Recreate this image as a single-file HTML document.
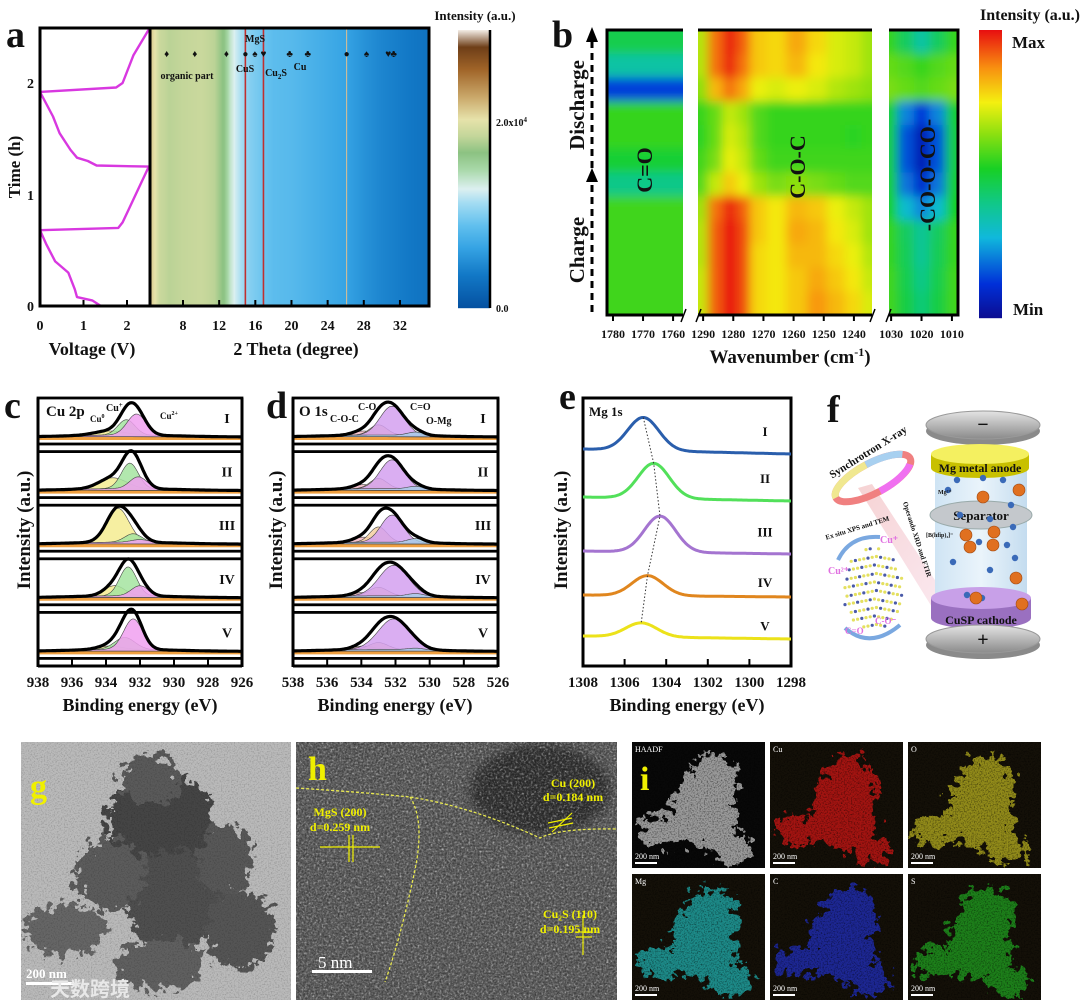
<!DOCTYPE html>
<html><head><meta charset="utf-8">
<style>
html,body{margin:0;padding:0;background:#fff;}
svg{display:block;}
text{font-family:"Liberation Serif","Noto Serif CJK SC",serif;font-weight:bold;fill:#111;}
</style></head>
<body>
<svg id="fig" xmlns="http://www.w3.org/2000/svg" width="1080" height="1004" viewBox="0 0 1080 1004">
<defs>
  <filter id="blurB" x="-20%" y="-20%" width="140%" height="140%"><feGaussianBlur stdDeviation="5"/></filter>
  <filter id="rough" x="-20%" y="-20%" width="140%" height="140%">
    <feTurbulence type="fractalNoise" baseFrequency="0.12" numOctaves="3" seed="3" result="t"/>
    <feDisplacementMap in="SourceGraphic" in2="t" scale="30" xChannelSelector="R" yChannelSelector="G"/>
  </filter>
  <filter id="noiseGray" x="0" y="0" width="100%" height="100%">
    <feTurbulence type="fractalNoise" baseFrequency="0.55" numOctaves="2" seed="7"/>
    <feColorMatrix type="matrix" values="0 0 0 0 0  0 0 0 0 0  0 0 0 0 0  0 0 0 -1.6 1.25"/>
  </filter>
  <filter id="noiseLight" x="0" y="0" width="100%" height="100%">
    <feTurbulence type="fractalNoise" baseFrequency="0.45" numOctaves="2" seed="11"/>
    <feColorMatrix type="matrix" values="0 0 0 0 1  0 0 0 0 1  0 0 0 0 1  0 0 0 1.8 -0.85"/>
  </filter>
  <filter id="speck" x="0" y="0" width="100%" height="100%">
    <feTurbulence type="fractalNoise" baseFrequency="0.7" numOctaves="2" seed="5"/>
    <feColorMatrix type="matrix" values="0 0 0 0 0  0 0 0 0 0  0 0 0 0 0  0 0 0 -2.2 1.2"/>
  </filter>
  <linearGradient id="capG" x1="0" y1="0" x2="0" y2="1"><stop offset="0" stop-color="#e4e4e4"/><stop offset="1" stop-color="#8a8a8a"/></linearGradient>
  <linearGradient id="colG" x1="0" y1="0" x2="1" y2="0"><stop offset="0" stop-color="#cfe4f4"/><stop offset="0.5" stop-color="#eaf4fb"/><stop offset="1" stop-color="#c4dcef"/></linearGradient>
  <linearGradient id="beamG" x1="0" y1="0" x2="1" y2="1"><stop offset="0" stop-color="#f4c8c8" stop-opacity="0.8"/><stop offset="1" stop-color="#f4c8d8" stop-opacity="0.4"/></linearGradient>
  <clipPath id="clipA"><rect x="150" y="28" width="279" height="278"/></clipPath>
  <clipPath id="clipB1"><rect x="607" y="30" width="76" height="285"/></clipPath>
  <clipPath id="clipB2"><rect x="698" y="30" width="174" height="285"/></clipPath>
  <clipPath id="clipB3"><rect x="889" y="30" width="69" height="285"/></clipPath>
  <clipPath id="clipG"><rect x="21" y="742" width="270" height="258"/></clipPath>
  <clipPath id="clipH"><rect x="296" y="742" width="321" height="258"/></clipPath>
</defs>

<g id="panelA">
  <text x="6" y="47" font-size="38">a</text>
  <g id="heatA" clip-path="url(#clipA)"></g>
  <g id="voltA"></g>
  <rect x="40" y="28" width="389" height="278" fill="none" stroke="#000" stroke-width="3"/>
  <line x1="150" y1="28" x2="150" y2="306" stroke="#000" stroke-width="3"/>
  <g id="axA"></g>
  <text x="34" y="311" font-size="14" text-anchor="end">0</text>
  <text x="34" y="200" font-size="14" text-anchor="end">1</text>
  <text x="34" y="88" font-size="14" text-anchor="end">2</text>
  <text transform="translate(20,167) rotate(-90)" font-size="17" text-anchor="middle">Time (h)</text>
  <text x="92" y="355" font-size="18" text-anchor="middle">Voltage (V)</text>
  <text x="296" y="355" font-size="18" text-anchor="middle">2 Theta (degree)</text>
  <text x="187" y="79" font-size="10" text-anchor="middle">organic part</text>
  <text x="255" y="42" font-size="10" text-anchor="middle">MgS</text>
  <text x="245" y="72" font-size="10" text-anchor="middle">CuS</text>
  <text x="276" y="76" font-size="10" text-anchor="middle">Cu<tspan font-size="7" dy="3">2</tspan><tspan dy="-3">S</tspan></text>
  <text x="300" y="70" font-size="10" text-anchor="middle">Cu</text>
  <g id="cbarA"></g>
  <text x="475" y="20" font-size="13" text-anchor="middle">Intensity (a.u.)</text>
  <text x="496" y="126" font-size="10">2.0x10<tspan font-size="7" dy="-4">4</tspan></text>
  <text x="496" y="312" font-size="10">0.0</text>
</g>

<g id="panelB">
  <text x="552" y="47" font-size="38">b</text>
  <g id="heatB1" clip-path="url(#clipB1)"></g>
  <g id="heatB2" clip-path="url(#clipB2)"></g>
  <g id="heatB3" clip-path="url(#clipB3)"></g>
  <polyline points="683,30 607,30 607,315 683,315" fill="none" stroke="#000" stroke-width="3"/>
  <line x1="698" y1="30" x2="872" y2="30" stroke="#000" stroke-width="3"/>
  <line x1="698" y1="315" x2="872" y2="315" stroke="#000" stroke-width="3"/>
  <polyline points="889,30 958,30 958,315 889,315" fill="none" stroke="#000" stroke-width="3"/>
  <g stroke="#000" stroke-width="1.5">
    <line x1="681" y1="322" x2="686" y2="309"/><line x1="696" y1="322" x2="701" y2="309"/>
    <line x1="870" y1="322" x2="875" y2="309"/><line x1="886" y1="322" x2="891" y2="309"/>
  </g>
  <g id="axB"></g>
  <line x1="592" y1="312" x2="592" y2="40" stroke="#000" stroke-width="3" stroke-dasharray="7,5"/>
  <polygon points="592,27 586,42 598,42" fill="#000"/>
  <polygon points="592,168 586,182 598,182" fill="#000"/>
  <text transform="translate(584,105) rotate(-90)" font-size="21" text-anchor="middle">Discharge</text>
  <text transform="translate(584,250) rotate(-90)" font-size="21" text-anchor="middle">Charge</text>
  <text transform="translate(652,170) rotate(-90)" font-size="22" text-anchor="middle">C=O</text>
  <text transform="translate(805,167) rotate(-90)" font-size="22" text-anchor="middle">C-O-C</text>
  <text transform="translate(935,175) rotate(-90)" font-size="22" text-anchor="middle">-CO-O-CO-</text>
  <g id="cbarB"></g>
  <text x="1030" y="20" font-size="16" text-anchor="middle">Intensity (a.u.)</text>
  <text x="1012" y="48" font-size="17">Max</text>
  <text x="1013" y="315" font-size="17">Min</text>
  <text x="790" y="363" font-size="19" text-anchor="middle">Wavenumber (cm<tspan font-size="12" dy="-7">-1</tspan><tspan dy="7">)</tspan></text>
</g>

<g id="panelC">
  <text x="4" y="418" font-size="38">c</text>
  <text transform="translate(30,530) rotate(-90)" font-size="19" text-anchor="middle">Intensity (a.u.)</text>
  <text x="140" y="711" font-size="18" text-anchor="middle">Binding energy (eV)</text>
  <g id="plotC"></g>
  <text x="46" y="416" font-size="15">Cu 2p</text>
  <text x="90" y="422" font-size="9">Cu<tspan font-size="6" dy="-4">0</tspan></text>
  <text x="106" y="411" font-size="10">Cu<tspan font-size="7" dy="-4">+</tspan></text>
  <text x="160" y="419" font-size="9">Cu<tspan font-size="6" dy="-4">2+</tspan></text>
</g>
<g id="panelD">
  <text x="266" y="418" font-size="38">d</text>
  <text transform="translate(282,530) rotate(-90)" font-size="19" text-anchor="middle">Intensity (a.u.)</text>
  <text x="395" y="711" font-size="18" text-anchor="middle">Binding energy (eV)</text>
  <g id="plotD"></g>
  <text x="299" y="416" font-size="15">O 1s</text>
  <text x="330" y="422" font-size="10">C-O-C</text>
  <text x="358" y="410" font-size="10">C-O</text>
  <text x="410" y="410" font-size="10">C=O</text>
  <text x="426" y="424" font-size="10">O-Mg</text>
</g>
<g id="panelE">
  <text x="559" y="409" font-size="38">e</text>
  <text transform="translate(567,530) rotate(-90)" font-size="19" text-anchor="middle">Intensity (a.u.)</text>
  <text x="687" y="711" font-size="18" text-anchor="middle">Binding energy (eV)</text>
  <g id="plotE"></g>
  <text x="589" y="416" font-size="13">Mg 1s</text>
</g>

<g id="panelF">
  <text x="827" y="422" font-size="38">f</text>
  <polygon points="858,488 872,484 948,600 935,612" fill="url(#beamG)"/>
  <rect x="935" y="462" width="92" height="145" fill="url(#colG)"/>
  <ellipse cx="983" cy="431" rx="57" ry="14" fill="#8a8a8a"/>
  <ellipse cx="983" cy="425" rx="57" ry="14" fill="url(#capG)" stroke="#999"/>
  <text x="983" y="431" font-size="20" text-anchor="middle">−</text>
  <path d="M931,454 L931,468 A49,10 0 0 0 1029,468 L1029,454 Z" fill="#c8c000"/>
  <ellipse cx="980" cy="454" rx="49" ry="10" fill="#f4f060"/>
  <text x="980" y="472" font-size="12" text-anchor="middle">Mg metal anode</text>
  <ellipse cx="981" cy="515" rx="51" ry="14" fill="#c4c8cc" stroke="#9aa"/>
  <text x="981" y="520" font-size="13" text-anchor="middle">Separator</text>
  <path d="M931,598 L931,618 A50,11 0 0 0 1031,618 L1031,598 Z" fill="#9a70c0"/>
  <ellipse cx="981" cy="598" rx="50" ry="11" fill="#c8a0e8"/>
  <text x="981" y="624" font-size="12" text-anchor="middle">CuSP cathode</text>
  <ellipse cx="983" cy="645" rx="57" ry="14" fill="#8a8a8a"/>
  <ellipse cx="983" cy="639" rx="57" ry="14" fill="url(#capG)" stroke="#999"/>
  <text x="983" y="646" font-size="20" text-anchor="middle">+</text>
  <g id="ballsF"></g>
  <text x="938" y="494" font-size="6">Mg²⁺</text>
  <text x="926" y="537" font-size="6">[B(hfip)₄]⁻</text>
  <g transform="rotate(-28 873 478)">
    <ellipse cx="873" cy="478" rx="42" ry="15" fill="none" stroke="#f08080" stroke-width="7"/>
    <path d="M831,478 A42,15 0 0 1 873,463" fill="none" stroke="#f0e890" stroke-width="7"/>
    <path d="M873,463 A42,15 0 0 1 910,471" fill="none" stroke="#a8d0f0" stroke-width="7"/>
    <path d="M873,493 A42,15 0 0 0 912,483" fill="none" stroke="#f070f0" stroke-width="7"/>
  </g>
  <text transform="translate(870,455) rotate(-32)" font-size="11" text-anchor="middle">Synchrotron X-ray</text>
  <text transform="translate(915,540) rotate(72)" font-size="7" text-anchor="middle">Operando XRD and FTIR</text>
  <text transform="translate(858,530) rotate(-17)" font-size="7" text-anchor="middle">Ex situ XPS and TEM</text>
  <g id="molF"></g>
  <path d="M838,560 Q850,535 880,537" fill="none" stroke="#7aa8e0" stroke-width="4"/>
  <path d="M845,628 Q870,650 900,625" fill="none" stroke="#7aa8e0" stroke-width="4"/>
  <text x="880" y="543" font-size="10" style="fill:#e070e0">Cu⁺</text>
  <text x="828" y="574" font-size="10" style="fill:#e070e0">Cu²⁺</text>
  <text x="845" y="634" font-size="9" style="fill:#e070e0">C=O</text>
  <text x="875" y="624" font-size="9" style="fill:#e070e0">C-O⁻</text>
</g>

<g id="panelG">
  <rect x="21" y="742" width="270" height="258" fill="#bababa"/>
  <g clip-path="url(#clipG)">
    <g filter="url(#rough)">
      <ellipse cx="160" cy="830" rx="55" ry="60" fill="#454545"/>
      <ellipse cx="175" cy="900" rx="50" ry="50" fill="#505050"/>
      <ellipse cx="110" cy="875" rx="35" ry="35" fill="#5c5c5c"/>
      <ellipse cx="65" cy="930" rx="42" ry="25" fill="#666"/>
      <ellipse cx="240" cy="930" rx="35" ry="38" fill="#555"/>
      <ellipse cx="160" cy="965" rx="45" ry="25" fill="#606060"/>
      <ellipse cx="225" cy="860" rx="28" ry="35" fill="#585858"/>
      <ellipse cx="150" cy="780" rx="30" ry="25" fill="#5a5a5a"/>
    </g>
    <rect x="21" y="742" width="270" height="258" filter="url(#speck)" opacity="0.22"/>
  </g>
  <text x="30" y="798" font-size="34" style="fill:#f0f000">g</text>
  <text x="26" y="978" font-size="13" style="fill:#fff">200 nm</text>
  <rect x="26" y="982" width="48" height="3" fill="#fff"/>
  <text x="50" y="996" font-size="20" style="fill:#e8e8e8;font-family:'Liberation Sans','Noto Sans CJK SC',sans-serif">天数跨境</text>
</g>
<g id="panelH">
  <rect x="296" y="742" width="321" height="258" fill="#6e6e6e"/>
  <g clip-path="url(#clipH)">
    <ellipse cx="540" cy="790" rx="70" ry="45" fill="#3c3c3c" filter="url(#blurB)"/>
    <rect x="296" y="742" width="321" height="258" filter="url(#noiseLight)" opacity="0.75"/>
    <rect x="296" y="742" width="321" height="258" filter="url(#noiseGray)" opacity="0.5"/>
  </g>
  <path d="M296,788 Q360,792 410,797 Q470,806 540,838 Q560,828 616,829" fill="none" stroke="#e8e850" stroke-width="1.3" stroke-dasharray="3,2"/>
  <path d="M410,797 Q425,820 415,870 Q400,940 385,982" fill="none" stroke="#e8e850" stroke-width="1.3" stroke-dasharray="3,2"/>
  <text x="308" y="780" font-size="34" style="fill:#f0f000">h</text>
  <text x="340" y="816" font-size="12" text-anchor="middle" style="fill:#f0f000">MgS (200)</text>
  <text x="340" y="831" font-size="12" text-anchor="middle" style="fill:#f0f000">d=0.259 nm</text>
  <text x="573" y="787" font-size="12" text-anchor="middle" style="fill:#f0f000">Cu (200)</text>
  <text x="573" y="801" font-size="12" text-anchor="middle" style="fill:#f0f000">d=0.184 nm</text>
  <text x="570" y="918" font-size="12" text-anchor="middle" style="fill:#f0f000">Cu₂S (110)</text>
  <text x="570" y="933" font-size="12" text-anchor="middle" style="fill:#f0f000">d=0.195 nm</text>
  <g stroke="#f0f000" stroke-width="1.2">
    <line x1="320" y1="847" x2="380" y2="847"/><line x1="349" y1="835" x2="349" y2="862"/><line x1="353" y1="835" x2="353" y2="862"/>
    <line x1="552" y1="832" x2="572" y2="813"/><line x1="548" y1="823" x2="572" y2="818"/><line x1="549" y1="828" x2="573" y2="823"/>
    <line x1="583" y1="915" x2="583" y2="955"/><line x1="576" y1="932" x2="592" y2="932"/><line x1="576" y1="937" x2="592" y2="937"/>
  </g>
  <text x="318" y="968" font-size="17" style="fill:#fff;font-weight:normal">5 nm</text>
  <rect x="312" y="970" width="60" height="3" fill="#fff"/>
</g>
<g id="panelI"></g>
</svg>

<script>
// ---------------- Panel a data ----------------
const timeH   = [0.00,0.00,0.05,0.08,0.15,0.30,0.40,0.55,0.68,0.70,0.75,1.00,1.25,1.26,1.30,1.33,1.40,1.55,1.70,1.92,1.96,2.00,2.25,2.48];
const voltV   = [1.80,1.40,1.20,0.85,0.80,0.65,0.35,0.15,0.00,1.80,1.90,2.20,2.50,1.30,1.10,0.85,0.70,0.45,0.30,0.00,1.75,1.90,2.15,2.50];
const voltTicks = [0,1,2];
const thetaTicks = [8,12,16,20,24,28,32];
const thetaCols   = [4.4,4.9,5.4,6.5,8,10,11.5,12.6,13.2,13.8,14.5,15.5,17,18,20,22,24,26,28,30,32,35.2];
const intensCols  = [0.72,0.68,0.63,0.61,0.62,0.63,0.61,0.55,0.47,0.42,0.38,0.34,0.31,0.29,0.28,0.26,0.24,0.22,0.18,0.15,0.13,0.10];
const markerTheta = [6.2,9.3,12.8,14.9,15.95,16.9,19.8,21.8,26.1,28.3,30.7,31.3];
const markerSym   = ['♦','♦','♦','●','♠','♥','♣','♣','●','♠','♥','♣'];
const refLines    = [14.9,16.9];

// ---------------- Panel b data ----------------
const wn1 = [1782,1776,1770,1764,1758];
const wn2 = [1291,1286,1281,1277,1272,1266,1259,1252,1246,1240,1235];
const wn3 = [1031,1025,1020,1015,1009];
const rowsB = 12;
const b1 = [[.47],[.36],[.14],[.55],[.55],[.5],[.4],[.56],[.56],[.56],[.56],[.56]];
const b2 = [
 [.68,.9,.99,.92,.8,.78,.84,.78,.72,.7,.66],
 [.68,.9,.98,.9,.8,.78,.82,.76,.72,.7,.66],
 [.64,.82,.9,.84,.74,.72,.74,.72,.68,.66,.64],
 [.55,.6,.7,.66,.58,.55,.55,.55,.55,.55,.55],
 [.54,.6,.72,.68,.58,.55,.55,.55,.55,.54,.55],
 [.56,.62,.74,.7,.6,.56,.56,.56,.56,.56,.56],
 [.58,.7,.8,.74,.66,.62,.64,.62,.6,.58,.58],
 [.66,.9,.98,.92,.8,.76,.82,.8,.74,.7,.66],
 [.68,.92,1.0,.94,.8,.76,.84,.82,.76,.72,.66],
 [.68,.92,1.0,.94,.78,.76,.82,.82,.78,.74,.68],
 [.7,.92,1.0,.94,.78,.76,.8,.84,.8,.76,.7],
 [.7,.92,1.0,.94,.78,.76,.8,.86,.82,.78,.72]];
const b3 = [
 [.55,.45,.36,.45,.55],
 [.6,.58,.55,.58,.6],
 [.62,.6,.58,.6,.62],
 [.5,.22,.12,.22,.5],
 [.48,.16,.06,.16,.48],
 [.48,.16,.06,.16,.48],
 [.5,.2,.1,.2,.5],
 [.52,.3,.22,.3,.52],
 [.55,.45,.38,.45,.55],
 [.55,.46,.38,.46,.55],
 [.56,.47,.4,.47,.56],
 [.56,.48,.42,.48,.56]];
const ticks1 = [1780,1770,1760];
const ticks2 = [1290,1280,1270,1260,1250,1240];
const ticks3 = [1030,1020,1010];

// ---------------- Panel c data (Cu 2p) ----------------
const cuLabels = ['I','II','III','IV','V'];
const cu0Center = [933.8,933.6,933.3,933.5,933.8];
const cu0Amp    = [0.12,0.32,1.00,0.30,0.10];
const cu1Center = [932.8,932.6,932.4,932.7,932.9];
const cu1Amp    = [0.45,0.75,0.25,0.85,0.35];
const cu2Center = [932.2,932.1,932.0,932.0,932.4];
const cu2Amp    = [0.62,0.35,0.08,0.30,0.90];
const cuBEticks = [938,936,934,932,930,928,926];

// ---------------- Panel d data (O 1s) ----------------
const oLabels = ['I','II','III','IV','V'];
const cocAmp = [0.12,0.12,0.15,0.10,0.10];
const coAmp  = [0.30,0.30,0.45,0.25,0.20];
const ceoAmp = [0.85,0.85,0.80,0.90,0.90];
const omgAmp = [0.10,0.08,0.12,0.08,0.05];
const ceoWidth = [0.70,0.70,0.65,0.85,0.90];
const oBEticks = [538,536,534,532,530,528,526];

// ---------------- Panel e data (Mg 1s) ----------------
const mgLabels  = ['I','II','III','IV','V'];
const mgCenter  = [1305.1,1304.6,1304.3,1304.9,1305.2];
const mgHeight  = [33,35,36,20,14];
const mgBaseL   = [212,164,110,66,25];
const mgBaseR   = [207,160,107,64,22];
const mgColors  = ['#2a5eac','#52e05a','#a474d0','#e0861e','#ece21a'];
const mgBEticks = [1308,1306,1304,1302,1300,1298];

const NS='http://www.w3.org/2000/svg';
function mk(tag, attrs, parent){const e=document.createElementNS(NS,tag);for(const k in attrs)e.setAttribute(k,attrs[k]);if(parent)parent.appendChild(e);return e;}
function lerpColor(stops,v){
  v=Math.max(0,Math.min(1,v));
  for(let i=1;i<stops.length;i++){if(v<=stops[i][0]){const a=stops[i-1],b=stops[i];const t=(v-a[0])/(b[0]-a[0]||1);
    const ca=parseInt(a[1].slice(1),16),cb=parseInt(b[1].slice(1),16);
    const r=Math.round(((ca>>16)&255)*(1-t)+((cb>>16)&255)*t),g=Math.round(((ca>>8)&255)*(1-t)+((cb>>8)&255)*t),bl=Math.round((ca&255)*(1-t)+(cb&255)*t);
    return `rgb(${r},${g},${bl})`;}}
  return stops[stops.length-1][1];
}
const cmapA=[[0,'#0450a0'],[0.12,'#1278c6'],[0.22,'#36a4e4'],[0.3,'#62c0ee'],[0.38,'#a4dcf2'],[0.43,'#dcf0f0'],[0.5,'#a8d8a8'],[0.56,'#8cc282'],[0.62,'#c4d69a'],[0.68,'#e6e2aa'],[0.76,'#caa86a'],[0.86,'#a06428'],[0.94,'#6e3e18'],[1,'#f0e8e0']];
const jet=[[0,'#0c0c90'],[0.12,'#0030d8'],[0.28,'#10b8dc'],[0.4,'#10c888'],[0.52,'#18d024'],[0.64,'#8ce010'],[0.75,'#f4f010'],[0.87,'#f89010'],[1,'#e81010']];

// ===== Panel a =====
(function(){
  const xV=v=>40+v*43.5, yT=t=>306-t*111.5, xT=th=>183+(th-8)*9.04;
  const heat=document.getElementById('heatA');
  function interp(th){for(let i=1;i<thetaCols.length;i++){if(th<=thetaCols[i]){const t=(th-thetaCols[i-1])/(thetaCols[i]-thetaCols[i-1]);return intensCols[i-1]*(1-t)+intensCols[i]*t;}}return intensCols[intensCols.length-1];}
  for(let px=150;px<430;px++){
    const th=8+(px+0.5-183)/9.04;
    const r=mk('rect',{x:px,y:28,width:1.2,height:278,fill:lerpColor(cmapA,interp(th))},heat);
    
    
  }
  refLines.forEach(th=>{const l=mk('line',{x1:xT(th),y1:28,x2:xT(th),y2:306,stroke:'#c03030','stroke-width':1.6},heat);
    
    });
  const fl=mk('line',{x1:xT(26.1),y1:28,x2:xT(26.1),y2:306,stroke:'#e0c090','stroke-width':1},heat);
  
  
  markerTheta.forEach((th,i)=>{const t=mk('text',{x:xT(th),y:57,'font-size':10,'text-anchor':'middle'},heat);t.textContent=markerSym[i];
    
    });
  const vg=document.getElementById('voltA');
  let d='';timeH.forEach((t,i)=>{d+=(i?'L':'M')+xV(voltV[i]).toFixed(1)+','+yT(t).toFixed(1);});
  const p=mk('path',{d:d,fill:'none',stroke:'#d838e0','stroke-width':2.4,'stroke-linejoin':'round'},vg);
  
  
  const ax=document.getElementById('axA');
  voltTicks.forEach(v=>{const l=mk('line',{x1:xV(v),y1:306,x2:xV(v),y2:300,stroke:'#000','stroke-width':2},ax);
    
    
    const t=mk('text',{x:xV(v),y:330,'font-size':14,'text-anchor':'middle'},ax);t.textContent=v;
    
    });
  thetaTicks.forEach(v=>{const l=mk('line',{x1:xT(v),y1:306,x2:xT(v),y2:300,stroke:'#000','stroke-width':2},ax);
    
    
    const t=mk('text',{x:xT(v),y:330,'font-size':14,'text-anchor':'middle'},ax);t.textContent=v;
    
    });
  const cb=document.getElementById('cbarA');
  for(let y=30;y<308;y++){const r=mk('rect',{x:458,y:y,width:32,height:1.2,fill:lerpColor(cmapA,(308-y)/278)},cb);
    
    }
  const cl=mk('line',{x1:490,y1:30,x2:490,y2:308,stroke:'#000','stroke-width':2.5},cb);
  
  
})();

// ===== Panel b =====
(function(){
  const segs=[{g:'heatB1',wn:wn1,v:b1,x0:607,x1:683,w0:1782,w1:1756.7},{g:'heatB2',wn:wn2,v:b2,x0:698,x1:872,w0:1291.7,w1:1234},{g:'heatB3',wn:wn3,v:b3,x0:889,x1:958,w0:1030.7,w1:1008}];
  const rowH=285/rowsB;
  segs.forEach(s=>{
    const grp=document.getElementById(s.g);
    const inner=mk('g',{filter:'url(#blurB)'},grp);
    const X=w=>s.x0+(w-s.w0)/(s.w1-s.w0)*(s.x1-s.x0);
    const ncol=s.v[0].length;
    for(let r=0;r<rowsB;r++){
      for(let c=0;c<ncol;c++){
        let xa,xb;
        if(ncol===1){xa=s.x0-20;xb=s.x1+20;}
        else{xa=c===0?s.x0-20:(X(s.wn[c-1])+X(s.wn[c]))/2;xb=c===ncol-1?s.x1+20:(X(s.wn[c])+X(s.wn[c+1]))/2;}
        const ya=r===0?10:30+r*rowH, yb=r===rowsB-1?335:30+(r+1)*rowH;
        const rc=mk('rect',{x:xa,y:ya,width:xb-xa+0.5,height:yb-ya+0.5,fill:lerpColor(jet,s.v[r][c])},inner);
        
        
      }
    }
  });
  const ax=document.getElementById('axB');
  [[ticks1,607,683,1782,1756.7],[ticks2,698,872,1291.7,1234],[ticks3,889,958,1030.7,1008]].forEach(a=>{
    a[0].forEach(w=>{const x=a[1]+(w-a[3])/(a[4]-a[3])*(a[2]-a[1]);
      const l=mk('line',{x1:x,y1:315,x2:x,y2:321,stroke:'#000','stroke-width':2},ax);
      
      
      const t=mk('text',{x:x,y:338,'font-size':12,'text-anchor':'middle'},ax);t.textContent=w;
      
      });
  });
  const cb=document.getElementById('cbarB');
  for(let y=30;y<318;y++){const r=mk('rect',{x:979,y:y,width:23,height:1.2,fill:lerpColor(jet,(318-y)/288)},cb);
    
    }
})();

// ===== XPS helpers =====
const gauss=(x,c,s)=>Math.exp(-0.5*((x-c)/s)**2);
function xpsPanel(gid,x0,x1,beL,beR,comps,labels,ticks,labX){
  const g=document.getElementById(gid);
  const X=be=>x0+(beL-be)/(beL-beR)*(x1-x0);
  const N=140;
  labels.forEach((lab,i)=>{
    const top=398+i*53.6, base=top+42, sc=34;
    const box=mk('rect',{x:x0,y:top,width:x1-x0,height:46,fill:'#fff',stroke:'#000','stroke-width':2.8},g);
    
    
    const bg=be=>3+2*gauss(be,(beL+beR)/2+1,3);
    let d='M'+x0+','+base;
    for(let k=0;k<=N;k++){const be=beL-(beL-beR)*k/N;d+='L'+X(be).toFixed(1)+','+(base-bg(be)).toFixed(1);}
    d+='L'+x1+','+base+'Z';
    const bgp=mk('path',{d:d,fill:'#f0a040'},g);
    
    
    comps.forEach(cp=>{
      const c=cp.c[i],a=cp.a[i],s=cp.s[i];
      let dd='M'+X(beL)+','+(base-bg(beL)).toFixed(1);
      for(let k=0;k<=N;k++){const be=beL-(beL-beR)*k/N;dd+='L'+X(be).toFixed(1)+','+(base-bg(be)-sc*a*gauss(be,c,s)).toFixed(1);}
      dd+='L'+X(beR)+','+(base-bg(beR)).toFixed(1)+'Z';
      const pp=mk('path',{d:dd,fill:cp.col,'fill-opacity':0.85,stroke:'#444','stroke-width':0.6},g);
      
      
    });
    let de='';
    for(let k=0;k<=N;k++){const be=beL-(beL-beR)*k/N;let v=bg(be);comps.forEach(cp=>{v+=sc*cp.a[i]*gauss(be,cp.c[i],cp.s[i]);});de+=(k?'L':'M')+X(be).toFixed(1)+','+(base-v).toFixed(1);}
    const env=mk('path',{d:de,fill:'none',stroke:'#000','stroke-width':3.2,'stroke-linejoin':'round'},g);
    
    
    const t=mk('text',{x:labX,y:top+25,'font-size':14,'text-anchor':'middle'},g);t.textContent=lab;
    
    
  });
  const axl=mk('line',{x1:x0,y1:666,x2:x1,y2:666,stroke:'#000','stroke-width':3},g);
  
  
  [x0,x1].forEach(x=>{const l=mk('line',{x1:x,y1:398,x2:x,y2:667,stroke:'#000','stroke-width':3},g);
    
    });
  ticks.forEach(v=>{const l=mk('line',{x1:X(v),y1:666,x2:X(v),y2:659,stroke:'#000','stroke-width':2},g);
    
    
    const t=mk('text',{x:X(v),y:687,'font-size':15,'text-anchor':'middle'},g);t.textContent=v;
    
    });
}
xpsPanel('plotC',38,242,938,926,[
  {c:cu0Center,a:cu0Amp,s:[0.9,0.8,0.65,0.6,0.7],col:'#f4ec90'},
  {c:cu1Center,a:cu1Amp,s:[0.5,0.5,0.5,0.5,0.6],col:'#a4e4a0'},
  {c:cu2Center,a:cu2Amp,s:[0.55,0.5,0.5,0.5,0.55],col:'#f0a0f0'}],cuLabels,cuBEticks,227);
xpsPanel('plotD',293,498,538,526,[
  {c:[533.9,533.9,533.9,533.9,533.9],a:cocAmp,s:[0.6,0.6,0.6,0.6,0.6],col:'#f4b8c4'},
  {c:[533.0,533.0,533.0,533.0,533.0],a:coAmp,s:[0.5,0.5,0.5,0.55,0.55],col:'#f4cfa0'},
  {c:[532.2,532.2,532.2,532.1,532.1],a:ceoAmp,s:ceoWidth,col:'#d4a0f0'},
  {c:[530.8,530.8,530.8,530.8,530.8],a:omgAmp,s:[0.5,0.5,0.5,0.5,0.5],col:'#a8cce8'}],oLabels,oBEticks,483);

// ===== Panel e =====
(function(){
  const g=document.getElementById('plotE');
  const x0=583,x1=791,beL=1308,beR=1298;
  const X=be=>x0+(beL-be)/(beL-beR)*(x1-x0);
  const Y=v=>661-v;
  const box=mk('rect',{x:x0,y:398,width:x1-x0,height:268,fill:'none',stroke:'#000','stroke-width':3},g);
  
  
  const N=160;let dots='';
  mgLabels.forEach((lab,i)=>{
    let d='';
    for(let k=0;k<=N;k++){const be=beL-(beL-beR)*k/N;const base=mgBaseL[i]+(mgBaseR[i]-mgBaseL[i])*k/N;
      const v=base+mgHeight[i]*gauss(be,mgCenter[i],0.75);d+=(k?'L':'M')+X(be).toFixed(1)+','+Y(v).toFixed(1);}
    const p=mk('path',{d:d,fill:'none',stroke:mgColors[i],'stroke-width':3},g);
    
    
    const kc=(beL-mgCenter[i])/(beL-beR);
    const topV=mgBaseL[i]+(mgBaseR[i]-mgBaseL[i])*kc+mgHeight[i];
    dots+=(i?'L':'M')+X(mgCenter[i]).toFixed(1)+','+Y(topV).toFixed(1);
    const t=mk('text',{x:765,y:Y(mgBaseL[i]+mgHeight[i]*0.4),'font-size':13,'text-anchor':'middle'},g);t.textContent=lab;
    
    
  });
  const dl=mk('path',{d:dots,fill:'none',stroke:'#333','stroke-width':1,'stroke-dasharray':'1.5,2'},g);
  
  
  mgBEticks.forEach(v=>{const l=mk('line',{x1:X(v),y1:666,x2:X(v),y2:659,stroke:'#000','stroke-width':2},g);
    
    
    const t=mk('text',{x:X(v),y:687,'font-size':15,'text-anchor':'middle'},g);t.textContent=v;
    
    });
})();

// ===== Panel f decorations =====
const orangeIons=[[983,497],[1019,490],[970,547],[993,545],[1016,578],[976,598],[1022,604],[994,532],[966,535]];
const blueIons=[[957,480],[983,478],[1003,480],[1020,487],[948,490],[1011,505],[960,515],[990,519],[1013,527],[979,542],[1007,545],[953,562],[990,570],[1015,558],[982,598],[967,595]];
(function(){
  const g=document.getElementById('ballsF');
  blueIons.forEach(p=>{const c=mk('circle',{cx:p[0],cy:p[1],r:3.2,fill:'#3a6ab8'},g);
    
    });
  orangeIons.forEach(p=>{const c=mk('circle',{cx:p[0],cy:p[1],r:6,fill:'#e07020',stroke:'#a04810','stroke-width':0.6},g);
    
    });
  const m=document.getElementById('molF');
  for(let i=0;i<14;i++){for(let j=0;j<10;j++){
    const x=845+i*4.2+(j%2)*2,y=548+j*8.5+Math.abs(i-7)*0.8;
    const dx=(x-873)/30,dy=(y-590)/42; if(dx*dx+dy*dy>1)continue;
    const c=mk('circle',{cx:x,cy:y,r:1.6,fill:((i+j)%3===0)?'#4a5aa8':'#e4e060'},m);
    
    
  }}
})();

// ===== Panel i EDS maps =====
const mapNames=['HAADF','Cu','O','Mg','C','S'];
const mapColors=['#d8d8d8','#e01818','#c8c020','#20c0c0','#2030d0','#20b020'];
(function(){
  const g=document.getElementById('panelI');
  const xs=[632,770,908],ys=[742,874],w=133,h=126;
  mapNames.forEach((nm,k)=>{
    const x=xs[k%3],y=ys[Math.floor(k/3)];
    const tile=mk('g',{},g);
    
    
    const cid='clipI'+k;
    const cp=mk('clipPath',{id:cid},tile);mk('rect',{x:x,y:y,width:w,height:h},cp);
    const bg=mk('rect',{x:x,y:y,width:w,height:h,fill:k===0?'#080808':'#141008'},tile);
    
    
    const inner=mk('g',{'clip-path':'url(#'+cid+')'},tile);
    const blob=mk('g',{filter:'url(#rough)',opacity:0.7},inner);
    [[0.6,0.35,0.2,0.25],[0.55,0.62,0.24,0.22],[0.22,0.7,0.18,0.12],[0.75,0.85,0.16,0.12],[0.45,0.5,0.15,0.2]].forEach(b=>{
      const e=mk('ellipse',{cx:x+b[0]*w,cy:y+b[1]*h,rx:b[2]*w,ry:b[3]*h,fill:mapColors[k]},blob);
      
      
    });
    const nz=mk('rect',{x:x,y:y,width:w,height:h,filter:'url(#speck)',opacity:0.6},inner);
    
    
    const t=mk('text',{x:x+3,y:y+10,'font-size':8,style:'fill:#fff;font-weight:normal'},tile);t.textContent=nm;
    
    
    const s=mk('text',{x:x+3,y:y+h-9,'font-size':8,style:'fill:#fff;font-weight:normal'},tile);s.textContent='200 nm';
    
    
    const sb=mk('rect',{x:x+3,y:y+h-6,width:22,height:2,fill:'#fff'},tile);
    
    
  });
  const li=mk('text',{x:640,y:790,'font-size':34,style:'fill:#f0f000'},g);li.textContent='i';
  
  
})();
</script>
</body></html>
